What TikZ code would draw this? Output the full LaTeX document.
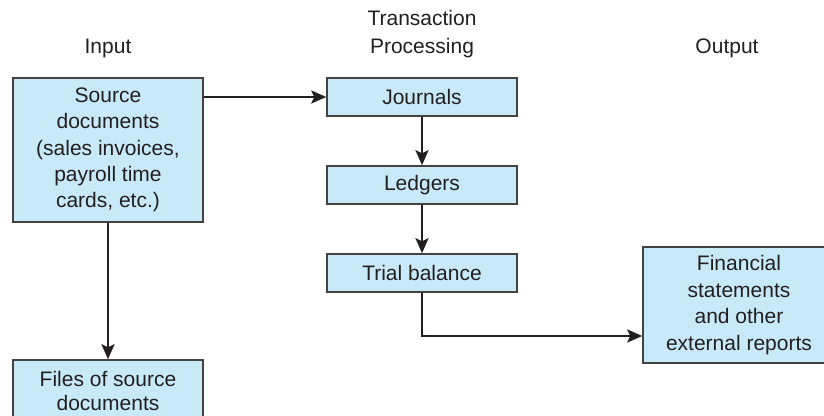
\documentclass[tikz,border=0pt]{standalone}
\usepackage{fontspec}
\setmainfont{Liberation Sans}
\usetikzlibrary{arrows.meta}
\definecolor{boxblue}{HTML}{C8E9F8}
\definecolor{inkgray}{HTML}{231F20}
\tikzset{
	stepbox/.style={draw=inkgray!85, line width=0.75pt, fill=boxblue, text=inkgray, align=center, minimum width=95pt, inner sep=2pt, font=\fontsize{10.5}{13.2}\selectfont},
	headtext/.style={text=inkgray, align=center, font=\fontsize{10.5}{14}\selectfont},
	flow/.style={draw=inkgray, line width=1.1pt, -{Stealth[length=7.5pt, width=6.5pt, inset=1.5pt]}}
}
\begin{document}
\begin{tikzpicture}[x=0.5pt, y=-0.5pt]
		%%%%% START %%%%%
		
		\useasboundingbox (0, 0) rectangle (824, 416);
		\clip (0, 0) rectangle (824, 416);
		
		\node[headtext] (input) at (108, 48) {Input};
		\node[headtext] (process) at (422, 34) {Transaction\\Processing};
		\node[headtext] (output) at (727, 48) {Output};
		
		\node[stepbox, minimum height=72pt] (source) at (108, 150) {Source\\documents\\(sales invoices,\\payroll time\\cards, etc.)};
		\node[stepbox, minimum height=31pt, font=\fontsize{10.5}{12.4}\selectfont] (files) at (108, 391) {Files of source\\documents};
		
		\node[stepbox, minimum height=19pt] (journals) at (422, 97) {Journals};
		\node[stepbox, minimum height=19pt] (ledgers) at (422, 185) {Ledgers};
		\node[stepbox, minimum height=19pt] (trial) at (422, 273) {Trial balance};
		
		\node[stepbox, minimum width=96pt, minimum height=58pt] (fin) at (739, 305) {Financial\\statements\\and other\\external reports};
		
		\draw[flow] (source.east |- journals.west) -- (journals.west);
		\draw[flow] (source.south) -- (files.north);
		\draw[flow] (journals.south) -- (ledgers.north);
		\draw[flow] (ledgers.south) -- (trial.north);
		\draw[flow] (trial.south) |- ([yshift=-15.5pt]fin.west);
		
		%%%%% END %%%%%
	\end{tikzpicture}
\end{document}
